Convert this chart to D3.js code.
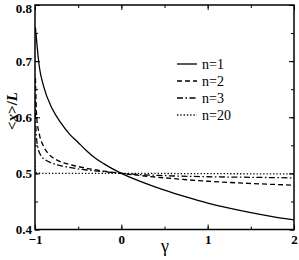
<!DOCTYPE html>
<html><head><meta charset="utf-8">
<script src="https://cdnjs.cloudflare.com/ajax/libs/d3/7.8.5/d3.min.js"></script>
<style>body{margin:0;background:#fff}svg{display:block}text{font-family:"Liberation Serif","DejaVu Serif",serif}</style>
</head><body><svg id="c" width="299" height="260"></svg>
<script>
const gammaN1 = [-0.995,-0.95,-0.9,-0.8,-0.7,-0.6,-0.5,-0.4,-0.3,-0.2,-0.1,0,0.25,0.5,0.75,1.0,1.25,1.5,1.75,2.0];
const valN1   = [0.76,0.69,0.655,0.615,0.59,0.57,0.555,0.54,0.527,0.517,0.508,0.5,0.484,0.47,0.458,0.447,0.438,0.43,0.423,0.417];
const gammaN2 = [-0.995,-0.98,-0.95,-0.9,-0.85,-0.75,-0.6,-0.4,-0.2,0,0.5,1.0,1.5,2.0];
const valN2   = [0.67,0.6,0.57,0.548,0.536,0.524,0.516,0.509,0.504,0.5,0.492,0.486,0.482,0.479];
const gammaN3 = [-0.998,-0.99,-0.97,-0.94,-0.88,-0.8,-0.65,-0.4,-0.2,0,0.5,1.0,1.5,2.0];
const valN3   = [0.63,0.58,0.548,0.534,0.524,0.518,0.512,0.506,0.503,0.5,0.496,0.494,0.493,0.492];
const gammaN20 = [-0.999,-0.995,-0.98,-0.9,0,1.0,2.0];
const valN20   = [0.52,0.505,0.501,0.5,0.5,0.4995,0.499];
const legendLabels = ["n=1","n=2","n=3","n=20"];
const xTicks = [-1,0,1,2];
const yTicks = [0.4,0.5,0.6,0.7,0.8];

const svg = d3.select("#c");
const L=35,R=294,T=5,B=229.5;
const x = d3.scaleLinear().domain([-1,2]).range([L,R]);
const y = d3.scaleLinear().domain([0.4,0.8]).range([B,T]);

const series = [
  {g:gammaN1,v:valN1,dash:null},
  {g:gammaN2,v:valN2,dash:"5,3"},
  {g:gammaN3,v:valN3,dash:"6,2.5,1.5,2.5"},
  {g:gammaN20,v:valN20,dash:"1.3,2"}
];
const line = d3.line().x(d=>x(d[0])).y(d=>y(d[1])).curve(d3.curveMonotoneX);
svg.append("clipPath").attr("id","cp").append("rect").attr("x",L).attr("y",T).attr("width",R-L).attr("height",B-T);
const gl = svg.append("g").attr("clip-path","url(#cp)");
series.forEach(s=>{
  gl.append("path").datum(s.g.map((g,i)=>[g,s.v[i]]))
    .attr("d",line).attr("fill","none").attr("stroke","#000").attr("stroke-width",1.3)
    .attr("stroke-dasharray",s.dash);
});

const xMinor = d3.range(-1,2.01,0.5);
const yMinor = d3.range(0.4,0.801,0.05);
const axB = d3.axisBottom(x).tickValues(xTicks).tickSize(-5).tickFormat(d3.format("d"));
const axT = d3.axisTop(x).tickValues(xTicks).tickSize(-5).tickFormat("");
const axL = d3.axisLeft(y).tickValues(yTicks).tickSize(-5).tickFormat(d3.format(".1f"));
const axRt = d3.axisRight(y).tickValues(yTicks).tickSize(-5).tickFormat("");
const mB = d3.axisBottom(x).tickValues(xMinor).tickSize(-3).tickFormat("");
const mT = d3.axisTop(x).tickValues(xMinor).tickSize(-3).tickFormat("");
const mL = d3.axisLeft(y).tickValues(yMinor).tickSize(-3).tickFormat("");
const mR = d3.axisRight(y).tickValues(yMinor).tickSize(-3).tickFormat("");
function add(ax,tr){
  const g=svg.append("g").attr("transform",tr).call(ax);
  g.select(".domain").remove();
  g.attr("font-family",null);
  g.selectAll("line").attr("stroke","#000").attr("stroke-width",1);
  g.selectAll("text").attr("font-weight","bold").attr("font-size",13).attr("fill","#000");
  return g;
}
add(mB,`translate(0,${B})`);add(mT,`translate(0,${T})`);add(mL,`translate(${L},0)`);add(mR,`translate(${R},0)`);
const gb=add(axB,`translate(0,${B})`); gb.selectAll("text").attr("dy","0.9em").attr("y",3);
add(axT,`translate(0,${T})`);
const gy=add(axL,`translate(${L},0)`); gy.selectAll("text").attr("x",-3).attr("dy",d=>d===0.8?"0.6em":"0.32em");
add(axRt,`translate(${R},0)`);
svg.append("rect").attr("x",L).attr("y",T).attr("width",R-L).attr("height",B-T)
  .attr("fill","none").attr("stroke","#000").attr("stroke-width",1.5);

svg.append("text").attr("x",165).attr("y",252).attr("text-anchor","middle")
  .attr("font-size",18).text("γ");
const yl = svg.append("text").attr("transform","translate(17,111) rotate(-90)").attr("text-anchor","middle")
  .attr("font-weight","bold").attr("font-size",15);
yl.append("tspan").text("<");
yl.append("tspan").attr("font-style","italic").text("x");
yl.append("tspan").text(">/");
yl.append("tspan").attr("font-style","italic").text("L");

const lg = svg.append("g");
legendLabels.forEach((t,i)=>{
  const yy = 64 + i*17;
  lg.append("line").attr("x1",177).attr("x2",197).attr("y1",yy).attr("y2",yy)
    .attr("stroke","#000").attr("stroke-width",1.3).attr("stroke-dasharray",series[i].dash);
  lg.append("text").attr("x",202).attr("y",yy+4.5).attr("font-size",14).text(t);
});
</script></body></html>
